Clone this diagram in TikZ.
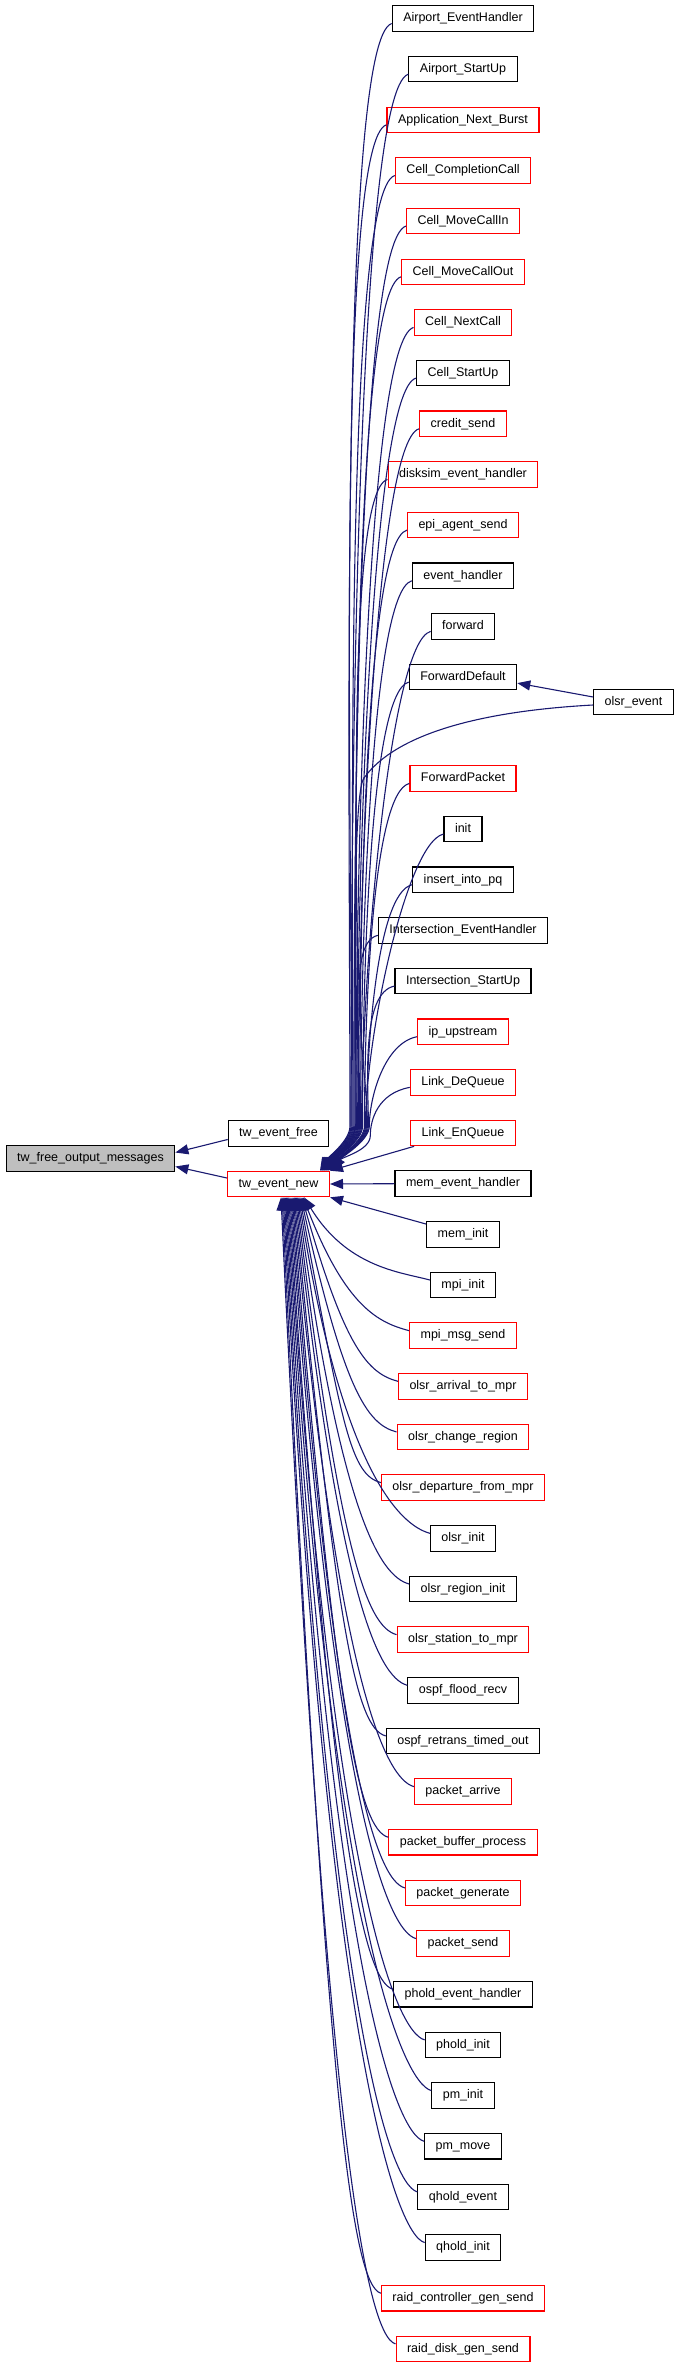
\documentclass[tikz,border=0pt]{standalone}
\usepackage{fontspec}
\setmainfont{Liberation Sans}
\usetikzlibrary{arrows.meta,calc}
\definecolor{edgeblue}{RGB}{25,25,112}
\definecolor{rootgray}{RGB}{191,191,191}

\begin{document}
\begin{tikzpicture}[x=1pt, y=-1pt,
    fn/.style={draw=black, fill=white, line width=1.1pt, inner xsep=11pt, inner ysep=0pt,
      minimum height=25.5pt, text height=9.2pt, text depth=2.6pt,
      font=\fontsize{12.5}{14}\selectfont},
    call/.style={draw=edgeblue, line width=1.1pt, -{Triangle[length=13pt,width=10pt]}}]
  \useasboundingbox (0,0) rectangle (679,2368);

  % callee chain
  \node[fn, fill=rootgray] (root) at (90.5,1158.5) {tw\_free\_output\_messages};
  \node[fn] (twfree) at (278.5,1133.5) {tw\_event\_free};
  \node[fn, draw=red] (twnew) at (278.5,1184) {tw\_event\_new};

  % callers of tw_event_new
  \foreach \s/\name/\col in {0/Airport\_EventHandler/black, 1/Airport\_StartUp/black,
      2/Application\_Next\_Burst/red, 3/Cell\_CompletionCall/red, 4/Cell\_MoveCallIn/red,
      5/Cell\_MoveCallOut/red, 6/Cell\_NextCall/red, 7/Cell\_StartUp/black,
      8/credit\_send/red, 9/disksim\_event\_handler/red, 10/epi\_agent\_send/red,
      11/event\_handler/black, 12/forward/black, 13/ForwardDefault/black,
      15/ForwardPacket/red, 16/init/black, 17/insert\_into\_pq/black,
      18/Intersection\_EventHandler/black, 19/Intersection\_StartUp/black,
      20/ip\_upstream/red, 21/Link\_DeQueue/red, 22/Link\_EnQueue/red,
      23/mem\_event\_handler/black, 24/mem\_init/black, 25/mpi\_init/black,
      26/mpi\_msg\_send/red, 27/olsr\_arrival\_to\_mpr/red, 28/olsr\_change\_region/red,
      29/olsr\_departure\_from\_mpr/red, 30/olsr\_init/black, 31/olsr\_region\_init/black,
      32/olsr\_station\_to\_mpr/red, 33/ospf\_flood\_recv/black,
      34/ospf\_retrans\_timed\_out/black, 35/packet\_arrive/red,
      36/packet\_buffer\_process/red, 37/packet\_generate/red, 38/packet\_send/red,
      39/phold\_event\_handler/black, 40/phold\_init/black, 41/pm\_init/black,
      42/pm\_move/black, 43/qhold\_event/black, 44/qhold\_init/black,
      45/raid\_controller\_gen\_send/red, 46/raid\_disk\_gen\_send/red}
    \node[fn, draw=\col] (f\s) at (463,{18.5+50.66*\s}) {\name};

  \node[fn] (olsr) at (633.5,702) {olsr\_event};

  % into tw_free_output_messages
  \draw[call] ($(twfree.west)+(0,6)$) -- ($(root.east)+(0,-6)$);
  \draw[call] ($(twnew.west)+(0,-6)$) -- ($(root.east)+(0,8)$);

  % callers above: hook, run down, bend in
  \foreach \s in {0,1,2,3,4,5,6,7,8,9,10,11,12,13,15,16,17,18,19,20,21} {
    \pgfmathsetmacro{\yn}{18.5+50.66*\s}
    \pgfmathsetmacro{\d}{1171-\yn}
    \pgfmathsetmacro{\xe}{93+15*(1-\d/1152)}
    \pgfmathsetmacro{\xv}{350+22*(1-\d/1152)}
    \pgfmathsetmacro{\yw}{1171-min(45,0.4*\d)}
    \draw[call] ($(f\s.west)+(0,5)$) .. controls +({-30-0.02*\d},{5+0.01*\d})
      and (\xv,{\yw-0.3*(\yw-\yn)}) .. (\xv,\yw)
      .. controls (\xv,{\yw+15}) and ({225+\xe+10},1157) .. ($(twnew.north west)+(\xe,0)$);
  }

  % callers level with it
  \draw[call] ($(f22.south west)+(4,0)$) -- (twnew.north east);
  \draw[call] (f23.west) -- (twnew.east);
  \draw[call] ($(f24.north west)+(0,3)$) -- (twnew.south east);

  % callers below
  \foreach \s in {25,...,46} {
    \pgfmathsetmacro{\yn}{18.5+50.66*\s}
    \pgfmathsetmacro{\xe}{54+1.1*(46-\s)}
    \draw[call] ($(f\s.west)+(0,-5)$) .. controls +(-30,-8)
      and ({225+\xe+45},{\yn-0.2*(\yn-1197)}) .. ($(twnew.south west)+(\xe,0)$);
  }

  % olsr_event
  \draw[call] ($(olsr.west)+(0,-5)$) -- ($(f13.east)+(0,6)$);
  \draw[call] ($(olsr.west)+(0,3)$) .. controls (500,710) and (400,728) .. (364,778)
    .. controls (352,794) and (356,1000) .. (356,1120)
    .. controls (356,1140) and (340,1157) .. ($(twnew.north west)+(104,0)$);
\end{tikzpicture}
\end{document}
